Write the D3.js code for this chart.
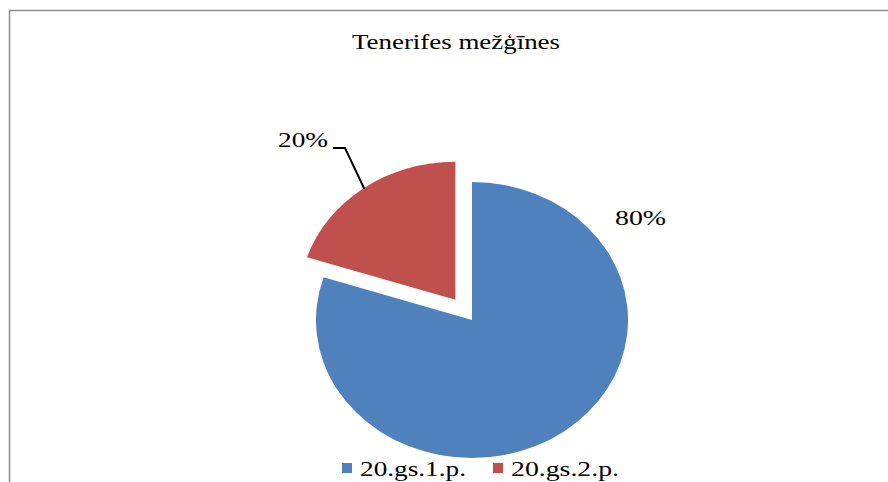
<!DOCTYPE html>
<html>
<head>
<meta charset="utf-8">
<script src="https://cdn.jsdelivr.net/npm/d3@7"></script>
<style>
  html, body { margin: 0; padding: 0; background: #fff; }
  svg { display: block; }
  text { font-family: "Liberation Serif", "Times New Roman", serif; fill: #000; }
</style>
</head>
<body>
<svg id="chart" width="888" height="482"></svg>
<script>
// Chart data
const title = "Tenerifes mežģīnes";
const categories = ["20.gs.1.p.", "20.gs.2.p."];
const values = [80, 20];
const colors = ["#4F81BD", "#C0504D"];
const exploded = [false, true];

const W = 888, H = 482;
const svg = d3.select("#chart");

// Serif text drawn slightly wide, as in the chart's typeface rendering
const wideText = (sel, width) =>
  sel.attr("textLength", width).attr("lengthAdjust", "spacingAndGlyphs");

// Chart frame (runs off the right and bottom edges)
svg.append("path")
  .attr("d", "M9.5,490 L9.5,10.5 L900,10.5")
  .attr("fill", "none")
  .attr("stroke", "#8c8c8c")
  .attr("stroke-width", 1.5);

// Title
svg.append("text")
  .attr("x", 352).attr("y", 49)
  .style("font-size", "22px")
  .text(title)
  .call(wideText, 208);

// Pie (slightly wider than tall)
const cx = 472, cy = 320, r = 138, sx = 156 / 138;
const explodeDist = 25;

const pie = d3.pie().sort(null).value(d => d)(values);
const arc = d3.arc().innerRadius(0).outerRadius(r);

const g = svg.append("g").attr("transform", `translate(${cx},${cy}) scale(${sx},1)`);

const offset = (d, i) => {
  if (!exploded[i]) return [0, 0];
  const a = (d.startAngle + d.endAngle) / 2;
  return [Math.sin(a) * explodeDist, -Math.cos(a) * explodeDist];
};

g.selectAll("path.slice")
  .data(pie)
  .join("path")
  .attr("class", "slice")
  .attr("d", arc)
  .attr("fill", (d, i) => colors[i])
  .attr("transform", (d, i) => { const o = offset(d, i); return `translate(${o[0]},${o[1]})`; });

// Data labels
const toScreen = (x, y) => [cx + x * sx, cy + y];

// 80% label, placed beside the upper right of its slice
svg.append("text")
  .attr("x", toScreen(r, 0)[0] - 13)
  .attr("y", cy - 95)
  .style("font-size", "22px")
  .text(Math.round(values[0]) + "%")
  .call(wideText, 51);

// 20% label with leader line to the slice edge at its mid angle
{
  const d = pie[1], i = 1;
  const o = offset(d, i);
  const a = (d.startAngle + d.endAngle) / 2;
  const edge = toScreen(o[0] + Math.sin(a) * (r - 1), o[1] - Math.cos(a) * (r - 1));
  const lx = 278, ly = 147;
  svg.append("polyline")
    .attr("points", `${lx + 55},${ly + 1} ${lx + 67},${ly + 1} ${edge[0]},${edge[1]}`)
    .attr("fill", "none")
    .attr("stroke", "#000")
    .attr("stroke-width", 2);
  svg.append("text")
    .attr("x", lx).attr("y", ly)
    .style("font-size", "22px")
    .text(Math.round(values[1]) + "%")
    .call(wideText, 50);
}

// Legend
const legendX = [342, 493];
const legendW = [106, 108];
const legend = svg.append("g");
categories.forEach((c, i) => {
  legend.append("rect")
    .attr("x", legendX[i]).attr("y", 463)
    .attr("width", 10).attr("height", 10)
    .attr("fill", colors[i]);
  legend.append("text")
    .attr("x", legendX[i] + 18).attr("y", 476)
    .style("font-size", "22px")
    .text(c)
    .call(wideText, legendW[i]);
});
</script>
</body>
</html>
